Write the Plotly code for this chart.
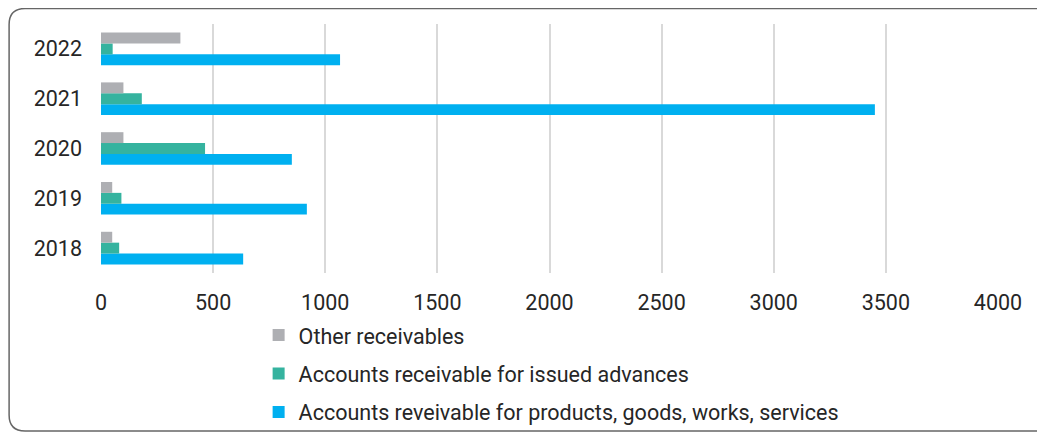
import plotly.graph_objects as go

years = ["2018", "2019", "2020", "2021", "2022"]
other = [50, 50, 100, 100, 354]
advances = [81, 91, 464, 182, 52]
products = [634, 918, 851, 3451, 1066]

names = ["Accounts reveivable for products, goods, works, services",
         "Accounts receivable for issued advances",
         "Other receivables"]
colors = ["#00B0F0", "#35B39F", "#AEAFB3"]
series = [products, advances, other]
ranks = [3, 2, 1]

# page body has an 8px margin, so the figure is laid out 8px smaller
OFF = 8
W, H = 1045 - OFF, 432 - OFF
L, R, T, B = 100.5 - OFF, 46.5, 24 - OFF, 432 - 273.3

fig = go.Figure()
for i, (n, c, s, rk) in enumerate(zip(names, colors, series, ranks)):
    fig.add_trace(go.Bar(y=years, x=s, orientation="h", name=n,
                         marker=dict(color=c, line=dict(width=0)),
                         legendgroup=str(i), legendrank=rk))

pw = W - L - R
ph = H - T - B
def px(x): return (x - OFF - L) / pw
def py(y): return (H - B - (y - OFF)) / ph

x0, y0, x1, y1, r = 8.5, 8.5, 1043.5, 431.5, 16
path = (f"M {px(1060)},{py(y1)} L {px(x0 + r)},{py(y1)} "
        f"Q {px(x0)},{py(y1)} {px(x0)},{py(y1 - r)} "
        f"L {px(x0)},{py(y0 + r)} "
        f"Q {px(x0)},{py(y0)} {px(x0 + r)},{py(y0)} "
        f"L {px(x1 - 6)},{py(y0)} Q {px(x1)},{py(y0)} {px(x1)},{py(y0 + 6)} "
        f"L {px(x1)},{py(460)}")
fig.add_shape(type="path", path=path, xref="paper", yref="paper",
              line=dict(color="#666666", width=1.5), layer="below")

FS = 21.5
fig.update_layout(
    width=W, height=H,
    margin=dict(l=L, r=R, t=T, b=B, autoexpand=False),
    paper_bgcolor="white", plot_bgcolor="white",
    barmode="group", bargap=0.345, bargroupgap=0,
    font=dict(family="Roboto", size=FS, color="#262626"),
    xaxis=dict(range=[0, 4000], dtick=500, showgrid=True, gridcolor="#D9D9D9",
               gridwidth=1.5, zeroline=False, showline=False, ticks="",
               ticklabelstandoff=14, tickfont=dict(size=FS)),
    yaxis=dict(type="category", showgrid=False, zeroline=False, showline=False,
               ticks="", ticklabelstandoff=18, tickfont=dict(size=FS)),
    legend=dict(orientation="v", x=px(258.3), xanchor="left",
                y=py(315), yanchor="top", traceorder="grouped",
                tracegroupgap=7.5, font=dict(size=FS), itemwidth=30,
                bgcolor="rgba(0,0,0,0)"),
    showlegend=True,
)
fig.write_html("out.html")
